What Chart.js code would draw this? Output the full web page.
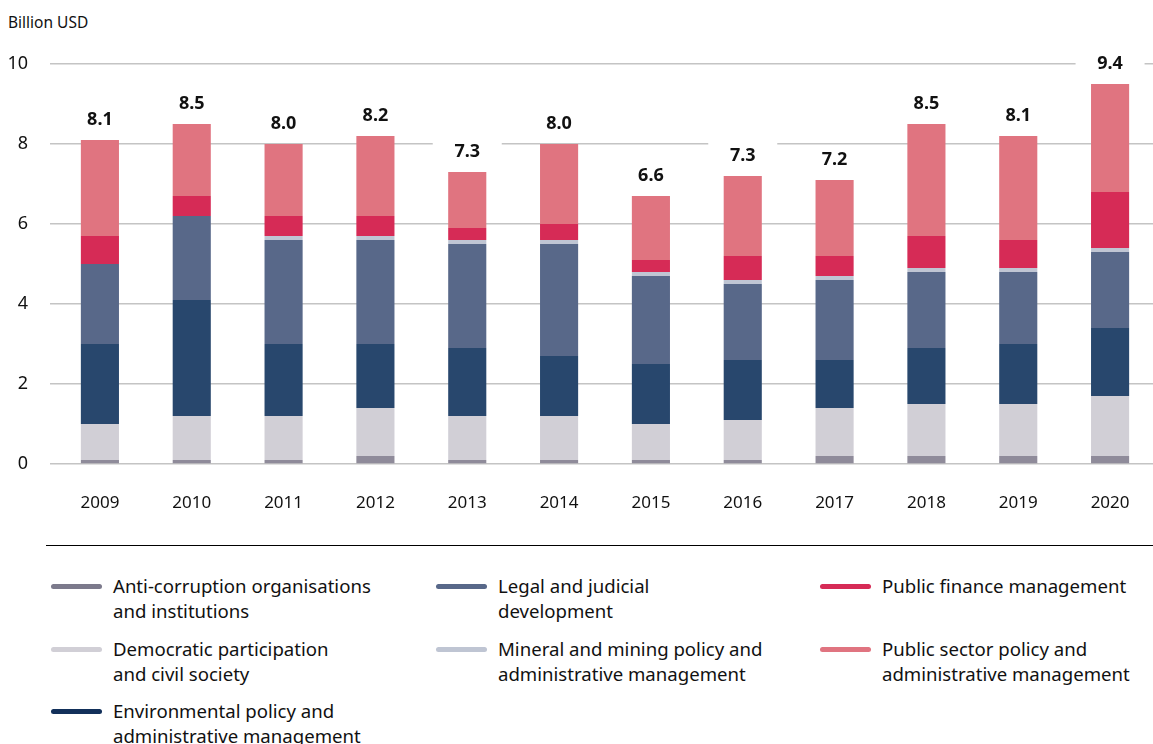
<!DOCTYPE html>
<html>
<head>
<meta charset="utf-8">
<script src="https://cdn.jsdelivr.net/npm/chart.js@4/dist/chart.umd.min.js"></script>
<style>
  html, body { margin: 0; padding: 0; background: #fff; overflow: hidden; }
  body { width: 1153px; height: 744px; position: relative; font-family: "Noto Sans", sans-serif; color: #111; }
  #wrap { position: absolute; left: 0; top: 0; width: 1156px; height: 520px; }
  #unit { position: absolute; left: 8px; top: 12px; font-size: 15.5px; line-height: 20px; }
  #rule { position: absolute; left: 46px; top: 545px; width: 1110px; height: 0; border-top: 1px solid #000; }
  .leg { position: absolute; font-size: 18.6px; line-height: 24.5px; }
  .leg .mk { position: absolute; left: 0; top: 9px; width: 51px; height: 5px; border-radius: 3px; }
  .leg .tx { position: absolute; left: 62px; top: -1px; white-space: nowrap; }
</style>
</head>
<body>
<div id="unit">Billion USD</div>
<div id="wrap"><canvas id="c" width="1156" height="520"></canvas></div>
<div id="rule"></div>
<div id="legend"></div>
<script>
const years = ['2009','2010','2011','2012','2013','2014','2015','2016','2017','2018','2019','2020'];
const totals = ['8.1','8.5','8.0','8.2','7.3','8.0','6.6','7.3','7.2','8.5','8.1','9.4'];
const yTicks = [0, 2, 4, 6, 8, 10];

const antiCorruption = [0.1, 0.1, 0.1, 0.2, 0.1, 0.1, 0.1, 0.1, 0.2, 0.2, 0.2, 0.2];
const democratic     = [0.9, 1.1, 1.1, 1.2, 1.1, 1.1, 0.9, 1.0, 1.2, 1.3, 1.3, 1.5];
const environmental  = [2.0, 2.9, 1.8, 1.6, 1.7, 1.5, 1.5, 1.5, 1.2, 1.4, 1.5, 1.7];
const legal          = [2.0, 2.1, 2.6, 2.6, 2.6, 2.8, 2.2, 1.9, 2.0, 1.9, 1.8, 1.9];
const mineral        = [0.0, 0.0, 0.1, 0.1, 0.1, 0.1, 0.1, 0.1, 0.1, 0.1, 0.1, 0.1];
const publicFinance  = [0.7, 0.5, 0.5, 0.5, 0.3, 0.4, 0.3, 0.6, 0.5, 0.8, 0.7, 1.4];
const publicSector   = [2.4, 1.8, 1.8, 2.0, 1.4, 2.0, 1.6, 2.0, 1.9, 2.8, 2.6, 2.7];

const seriesNames = [
  'Anti-corruption organisations\nand institutions',
  'Democratic participation\nand civil society',
  'Environmental policy and\nadministrative management',
  'Legal and judicial\ndevelopment',
  'Mineral and mining policy and\nadministrative management',
  'Public finance management',
  'Public sector policy and\nadministrative management'
];
const seriesValues = [antiCorruption, democratic, environmental, legal, mineral, publicFinance, publicSector];
const barColors = ['#8f8b9a', '#d1cfd6', '#28476d', '#586889', '#bfc5d3', '#d62b56', '#e07480'];
const legendColors = ['#7c7a8c', '#d1cfd6', '#12305a', '#586889', '#bfc5d3', '#d62b56', '#e07480'];

const datasets = seriesNames.map((name, i) => ({
  label: name,
  data: seriesValues[i],
  backgroundColor: barColors[i],
  borderWidth: 0,
  categoryPercentage: 1,
  barPercentage: 0.415
}));

const totalLabels = {
  id: 'totalLabels',
  afterDatasetsDraw(chart) {
    const ctx = chart.ctx;
    const meta = chart.getDatasetMeta(chart.data.datasets.length - 1);
    ctx.save();
    meta.data.forEach((bar, i) => {
      const x = bar.x, y = bar.y - 20;
      ctx.fillStyle = '#ffffff';
      ctx.fillRect(x - 34.5, y - 13, 69, 26);
      ctx.fillStyle = '#111111';
      ctx.font = 'bold 18px "Noto Sans", sans-serif';
      ctx.textAlign = 'center';
      ctx.textBaseline = 'middle';
      ctx.fillText(totals[i], x, y);
    });
    ctx.restore();
  }
};

new Chart(document.getElementById('c'), {
  type: 'bar',
  data: { labels: years, datasets },
  plugins: [totalLabels],
  options: {
    responsive: false,
    animation: false,
    layout: { padding: { top: 64, left: 0, right: 0, bottom: 0 } },
    plugins: { legend: { display: false }, tooltip: { enabled: false } },
    scales: {
      x: {
        stacked: true,
        grid: { display: false },
        border: { display: false },
        ticks: { color: '#111111', font: { family: '"Noto Sans", sans-serif', size: 17 }, padding: 21 },
        afterFit(s) { s.height = 56; }
      },
      y: {
        stacked: true,
        min: 0, max: 10,
        afterBuildTicks(s) { s.ticks = yTicks.map(v => ({ value: v })); },
        grid: { color: '#c4c4c4', lineWidth: 1.5, drawTicks: true, tickLength: 4, tickColor: '#c4c4c4' },
        border: { display: false },
        ticks: { color: '#111111', font: { family: '"Noto Sans", sans-serif', size: 18 }, padding: 22 },
        afterFit(s) { s.width = 54; }
      }
    }
  }
});

// legend built from the series names / colours
const legendPos = [
  [51, 575], [51, 638], [51, 700],
  [436, 575], [436, 638],
  [820, 575], [820, 638]
];
const lg = document.getElementById('legend');
seriesNames.forEach((name, i) => {
  const d = document.createElement('div');
  d.className = 'leg';
  d.style.left = legendPos[i][0] + 'px';
  d.style.top = legendPos[i][1] + 'px';
  const mk = document.createElement('span');
  mk.className = 'mk';
  mk.style.background = legendColors[i];
  const tx = document.createElement('span');
  tx.className = 'tx';
  name.split('\n').forEach((line, j) => {
    if (j) tx.appendChild(document.createElement('br'));
    tx.appendChild(document.createTextNode(line));
  });
  d.appendChild(mk);
  d.appendChild(tx);
  lg.appendChild(d);
});
</script>
</body>
</html>
